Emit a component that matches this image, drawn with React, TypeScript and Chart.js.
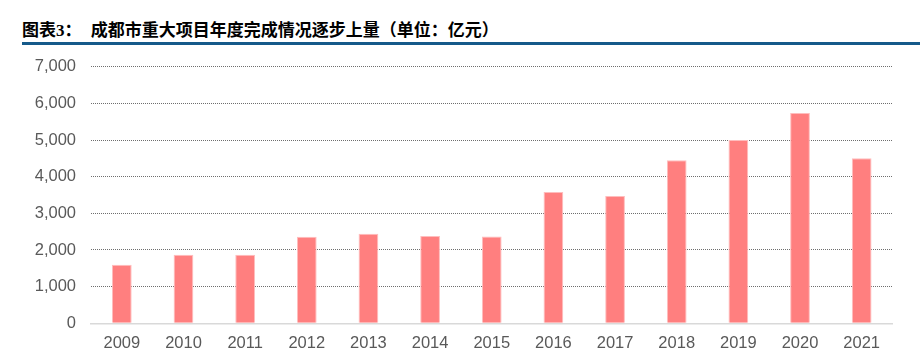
import React, { useEffect, useRef } from "react";
import { Chart, registerables } from "chart.js";

Chart.register(...registerables);

const titlePrefix = "图表";
const titleNum = "3";
const titleColon = "：";
const titleText = "成都市重大项目年度完成情况逐步上量（单位：亿元）";
const years = ["2009", "2010", "2011", "2012", "2013", "2014", "2015", "2016", "2017", "2018", "2019", "2020", "2021"];
const values = [1600, 1870, 1870, 2360, 2440, 2380, 2370, 3580, 3470, 4450, 5000, 5740, 4500];
const yMax = 7000;
const yStep = 1000;

export default function App() {
  const ref = useRef<HTMLCanvasElement | null>(null);
  useEffect(() => {
    const canvas = ref.current;
    if (!canvas) return;
    const chart = new Chart(canvas, {
      type: "bar",
      data: {
        labels: years,
        datasets: [
          {
            data: values,
            backgroundColor: "#FF7F7F",
            borderColor: "#FFBDBD",
            borderWidth: 1,
            categoryPercentage: 1,
            barPercentage: 0.32,
          },
        ],
      },
      options: {
        animation: false,
        responsive: false,
        maintainAspectRatio: false,
        layout: { padding: { top: 66.7, right: 27.5, left: 0, bottom: 0 } },
        plugins: { legend: { display: false }, tooltip: { enabled: false }, title: { display: false } },
        scales: {
          x: {
            grid: { display: false, drawTicks: false },
            border: { display: true, color: "#D9D9D9", width: 1.5 },
            ticks: { color: "#595959", font: { family: "'Liberation Sans', Arial", size: 16.5 }, padding: 10, maxRotation: 0 },
            afterFit: (s: any) => { s.height = 33.7; },
          },
          y: {
            min: 0,
            max: yMax,
            grid: {
              drawTicks: false,
              color: (ctx: any) => (ctx.tick && ctx.tick.value === 0 ? "rgba(0,0,0,0)" : "#6E6E6E"),
              lineWidth: 1,
            },
            border: { display: false, dash: [1, 1] },
            ticks: {
              stepSize: yStep,
              color: "#595959",
              font: { family: "'Liberation Sans', Arial", size: 16.5 },
              padding: 15,
              callback: (v: any) => Number(v).toLocaleString("en-US"),
            },
            afterFit: (s: any) => { s.width = 91; },
          },
        },
      },
    });
    return () => chart.destroy();
  }, []);

  const titleStyle: React.CSSProperties = {
    position: "absolute",
    top: 20,
    fontFamily: "'Noto Sans CJK SC'",
    fontWeight: 700,
    fontSize: 17,
    lineHeight: "17px",
    color: "#000",
    whiteSpace: "nowrap",
  };

  return (
    <div style={{ position: "fixed", left: 0, top: 0, width: 920, height: 357, background: "#fff", overflow: "hidden" }}>
      <div style={{ ...titleStyle, left: 22 }}>
        <span>{titlePrefix}</span>
        <span style={{ fontFamily: "'Liberation Serif'", fontSize: 17 }}>{titleNum}</span>
        <span>{titleColon}</span>
      </div>
      <div style={{ ...titleStyle, left: 90.7 }}>{titleText}</div>
      <div style={{ position: "absolute", left: 22, top: 42, width: 898, height: 3, background: "#155A8A" }} />
      <canvas ref={ref} width={920} height={357} style={{ position: "absolute", left: 0, top: 0, width: 920, height: 357 }} />
    </div>
  );
}
